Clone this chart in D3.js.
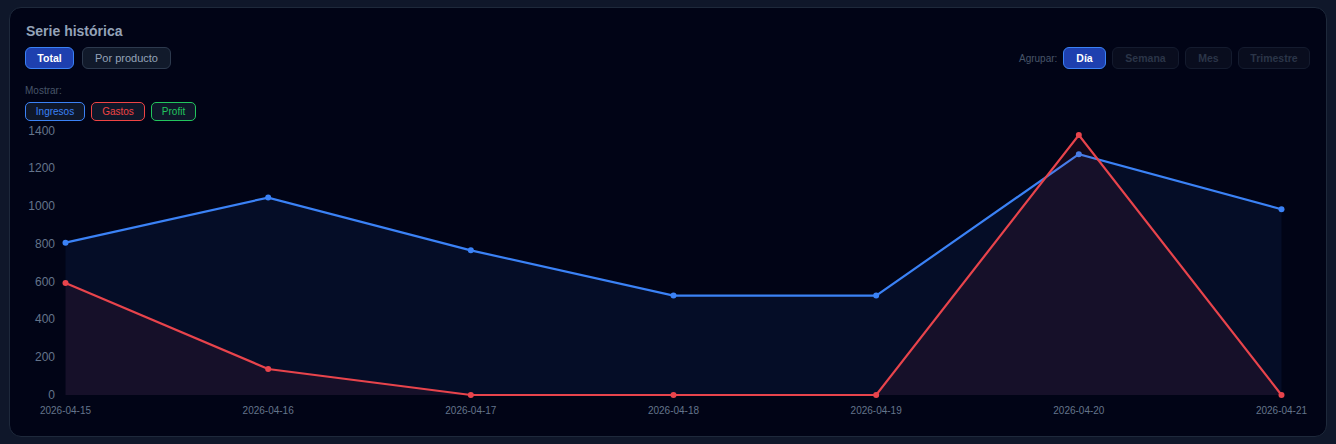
<!DOCTYPE html>
<html lang="es">
<head>
<meta charset="utf-8">
<script src="https://cdn.jsdelivr.net/npm/d3@7"></script>
<style>
html,body{margin:0;padding:0;width:1336px;height:444px;overflow:hidden;background:#0f172a;font-family:"Liberation Sans",Arial,sans-serif}
svg{position:absolute;left:0;top:0}
.panel{position:absolute;left:8.5px;top:6.5px;width:1318px;height:430px;box-sizing:border-box;border:1px solid #1e293b;border-radius:12px;background:#010416}
.t{position:absolute;white-space:nowrap}
.btn{position:absolute;box-sizing:border-box;text-align:center;border-radius:6px;border:1px solid #2d3a4e;background:#111a2b;color:#94a3b8;font-size:11px;font-weight:400;height:22px;line-height:20px}
.on{background:#1e40af;border-color:#3b82f6;color:#fff;font-weight:700;font-size:10.5px}
.off{background:#090d1e;border-color:#141b2e;color:#2b3548;font-weight:700;font-size:10.5px}
.chip{position:absolute;box-sizing:border-box;text-align:center;border-radius:5px;background:#0f1729;font-size:10px;height:19px;line-height:17px;border:1px solid}
</style>
</head>
<body>
<div class="panel"></div>
<div class="t" style="left:26px;top:23px;font-size:14px;font-weight:700;color:#94a3b8">Serie histórica</div>
<div class="btn on" style="left:25px;top:47px;width:49px">Total</div>
<div class="btn" style="left:82px;top:47px;width:89px">Por producto</div>
<div class="t" style="left:1019px;top:53px;font-size:10px;color:#475569">Agrupar:</div>
<div class="btn on" style="left:1063px;top:47px;width:43px">Día</div>
<div class="btn off" style="left:1112px;top:47px;width:67px">Semana</div>
<div class="btn off" style="left:1185px;top:47px;width:47px">Mes</div>
<div class="btn off" style="left:1238px;top:47px;width:72px">Trimestre</div>
<div class="t" style="left:25px;top:85px;font-size:10px;color:#475569">Mostrar:</div>
<div class="chip" style="left:25px;top:102px;width:60px;color:#3b82f6;border-color:#3b82f6">Ingresos</div>
<div class="chip" style="left:91px;top:102px;width:54px;color:#ef4444;border-color:#ef4444">Gastos</div>
<div class="chip" style="left:151px;top:102px;width:45px;color:#22c55e;border-color:#22c55e">Profit</div>
<svg id="c" width="1336" height="444"></svg>
<script>
const dates = ["2026-04-15","2026-04-16","2026-04-17","2026-04-18","2026-04-19","2026-04-20","2026-04-21"];
const ingresos = [808, 1047, 767, 527, 527, 1277, 985];
const gastos = [594, 138, 0, 0, 0, 1379, 0];
const yTicks = [0, 200, 400, 600, 800, 1000, 1200, 1400];

const svg = d3.select("#c");
const x = d3.scalePoint().domain(dates).range([65.5, 1281.5]);
const y = d3.scaleLinear().domain([0, 1400]).range([395, 131]);

function drawSeries(values, color, fillOpacity) {
  const pts = dates.map((d, i) => ({d, v: values[i]}));
  svg.append("path").datum(pts)
    .attr("fill", color).attr("fill-opacity", fillOpacity)
    .attr("d", d3.area().x(p => x(p.d)).y0(y(0)).y1(p => y(p.v)));
  svg.append("path").datum(pts)
    .attr("fill", "none").attr("stroke", color).attr("stroke-width", 2.2)
    .attr("d", d3.line().x(p => x(p.d)).y(p => y(p.v)));
  svg.append("g").selectAll("circle").data(pts).join("circle")
    .attr("cx", p => x(p.d)).attr("cy", p => y(p.v)).attr("r", 3).attr("fill", color);
}
drawSeries(ingresos, "#3b82f6", 0.08);
drawSeries(gastos, "#e8444c", 0.08);

const yAxis = svg.append("g").attr("transform", "translate(66,0)")
  .call(d3.axisLeft(y).tickValues(yTicks).tickSize(0).tickPadding(11).tickFormat(d3.format("d")));
yAxis.select(".domain").remove();
yAxis.selectAll("text").attr("fill", "#64748b").attr("font-size", 12).attr("font-family", '"Liberation Sans",Arial,sans-serif').attr("dy", "0.27em");

const xAxis = svg.append("g").attr("transform", "translate(-0.5,395)")
  .call(d3.axisBottom(x).tickSize(0).tickPadding(12));
xAxis.select(".domain").remove();
xAxis.selectAll("text").attr("fill", "#64748b").attr("font-size", 10).attr("font-family", '"Liberation Sans",Arial,sans-serif');
</script>
</body>
</html>
